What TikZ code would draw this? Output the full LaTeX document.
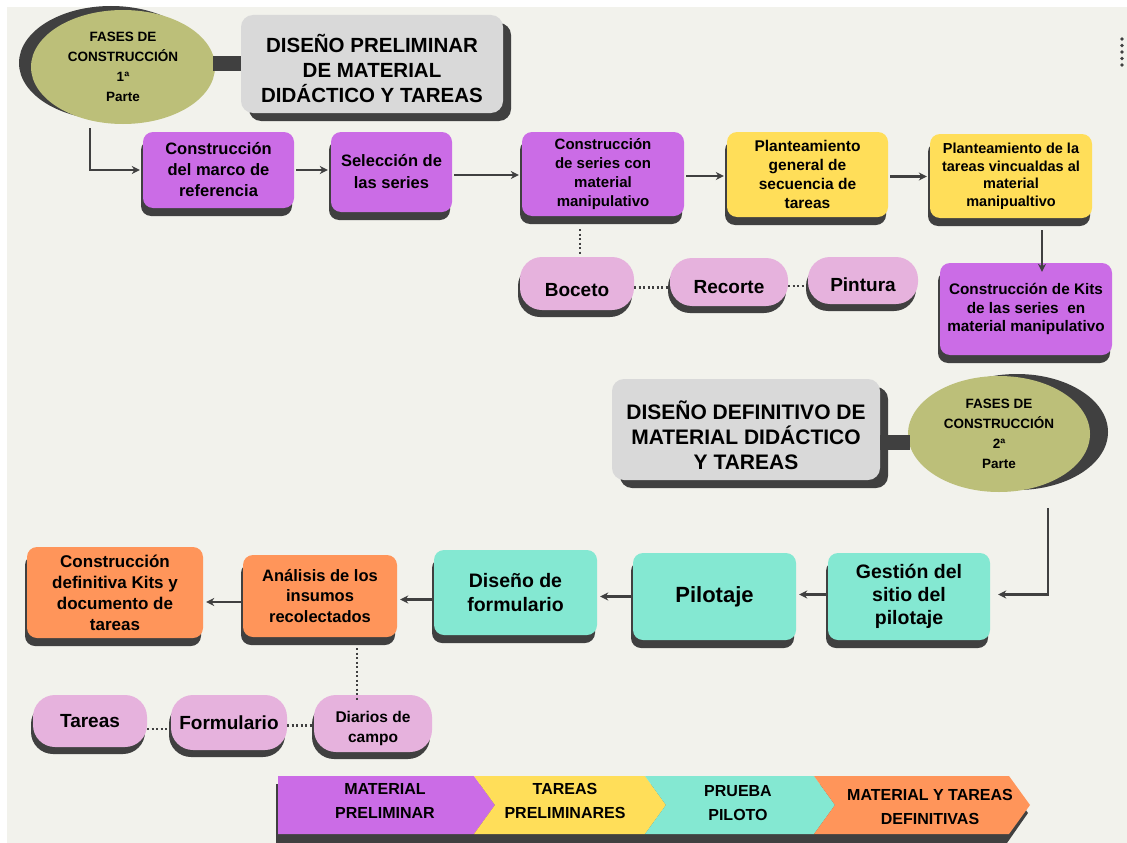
\documentclass[tikz,border=0pt]{standalone}
\usepackage{fontspec}
\setmainfont{Liberation Sans}
\usetikzlibrary{shadows,arrows.meta,calc,shapes.geometric}
\definecolor{bg}{HTML}{F2F2EC}
\definecolor{dk}{HTML}{404040}
\definecolor{purp}{HTML}{CB6CE6}
\definecolor{yel}{HTML}{FFDE59}
\definecolor{teal}{HTML}{84E8D2}
\definecolor{oran}{HTML}{FF955A}
\definecolor{pink}{HTML}{E6B2DD}
\definecolor{olive}{HTML}{BCBF79}
\definecolor{grayb}{HTML}{D9D9D9}
\newcommand{\fsz}[2]{\bfseries\fontsize{#1}{#2}\selectfont}
\newcommand{\lowr}[2]{\raisebox{-#1}[0pt][0pt]{#2}}
\begin{document}
\begin{tikzpicture}[x=1pt,y=-1pt,
  box/.style={rounded corners=10pt, align=center, inner sep=2pt,
    drop shadow={shadow xshift=-2pt, shadow yshift=-8pt, fill=dk, opacity=1}},
  graybox/.style={fill=grayb, rounded corners=12pt, align=center, inner sep=2pt,
    drop shadow={shadow xshift=8pt, shadow yshift=-8pt, fill=dk, opacity=1}},
  pill/.style={fill=pink, rounded corners=22pt, align=center, inner sep=2pt,
    drop shadow={shadow xshift=-2pt, shadow yshift=-7pt, fill=dk, opacity=1}},
  oval/.style={ellipse, fill=olive, align=center, inner sep=0pt},
  arr/.style={draw=dk, line width=2.3pt, -{Stealth[length=8pt,width=8pt]}, shorten <=2pt, shorten >=3pt},
  dotline/.style={draw=dk, line width=2.2pt, dash pattern=on 2pt off 2.5pt},
  bar/.style={draw=dk, line width=15pt},
  legtext/.style={align=center, font=\fsz{16}{24}}
]
\useasboundingbox (0,0) rectangle (1127,843);
\fill[white] (0,0) rectangle (1127,843);
\fill[bg] (7,7) rectangle (1127,843);

% menu dots
\foreach \yy in {39,45.5,52,58.5,65} \fill[dk] (1122,\yy) circle (1.8);

% ---------- top part ----------
\node[oval, minimum width=184pt, minimum height=114pt,
  drop shadow={shadow xshift=-12pt, shadow yshift=4pt, fill=dk, opacity=1},
  font=\fsz{13.5}{20}] (e1) at (123,67) {FASES DE\\CONSTRUCCIÓN\\1ª\\Parte};
\node[graybox, minimum width=262pt, minimum height=98pt, font=\fsz{20.5}{25}] (gp1) at (372,64)
  {\lowr{13pt}{DISEÑO PRELIMINAR}\\\lowr{13pt}{DE MATERIAL}\\\lowr{13pt}{DIDÁCTICO Y TAREAS}};
\draw[bar] ([xshift=-2pt]e1.east |- gp1.west) -- (gp1.west);

\node[box, fill=purp, minimum width=151pt, minimum height=76pt, font=\fsz{16.5}{21}] (b1) at (218.5,170)
  {Construcción\\del marco de\\referencia};
\node[box, fill=purp, minimum width=121pt, minimum height=80pt, font=\fsz{16.5}{22}] (b2) at (391.5,172)
  {Selección de\\las series};
\node[box, fill=purp, minimum width=162pt, minimum height=84pt, font=\fsz{15}{19}] (b3) at (603,174)
  {Construcción\\de series con\\material\\manipulativo};
\node[box, fill=yel, minimum width=161pt, minimum height=85pt, font=\fsz{15.5}{19}] (b4) at (807.5,174.5)
  {Planteamiento\\general de\\secuencia de\\tareas};
\node[box, fill=yel, minimum width=162pt, minimum height=84pt, font=\fsz{14.5}{17.5}] (b5) at (1011,176)
  {Planteamiento de la\\tareas vincualdas al\\material\\manipualtivo};
\node[box, fill=purp, minimum width=172pt, minimum height=92pt, font=\fsz{15.3}{18.5}] (b6) at (1026,309)
  {Construcción de Kits\\de las series\ \ en\\material manipulativo};

\node[pill, minimum width=114pt, minimum height=53pt, font=\fsz{19}{22}] (boceto) at (577,283.5)
  {\lowr{13pt}{Boceto}};
\node[pill, minimum width=118pt, minimum height=48pt, font=\fsz{19}{22}] (recorte) at (729,282)
  {\lowr{11pt}{Recorte}};
\node[pill, minimum width=110pt, minimum height=47pt, font=\fsz{19}{22}] (pintura) at (863,280.5)
  {\lowr{11pt}{Pintura}};

\coordinate (c1) at (90,128);
\draw[arr, shorten <=0pt] (c1) |- (b1.west);
\draw[arr] (b1.east) -- (b1.east -| b2.west);
\draw[arr] ([yshift=-3pt]b2.east) -- ([yshift=-3pt]b2.east -| b3.west);
\draw[arr] ([yshift=-2pt]b3.east) -- ([yshift=-2pt]b3.east -| b4.west);
\draw[arr] ([yshift=-2pt]b4.east) -- ([yshift=-2pt]b4.east -| b5.west);
\draw[arr, shorten <=0pt] ([xshift=31pt,yshift=-12pt]b5.south) -- ([xshift=31pt,yshift=-12pt]b5.south |- b6.north);

\draw[dotline, shorten >=2pt] ([xshift=3pt,yshift=-13pt]b3.south -| boceto.north) -- ([xshift=3pt]boceto.north);
\draw[dotline] ([yshift=-4pt]boceto.east) -- ([yshift=-4pt]boceto.east -| recorte.west);
\draw[dotline] ([yshift=-4pt]recorte.east) -- ([yshift=-4pt]recorte.east -| pintura.west);

% ---------- middle part ----------
\node[graybox, minimum width=268pt, minimum height=101pt, font=\fsz{21}{25}] (gp2) at (746,429.5)
  {\lowr{15pt}{DISEÑO DEFINITIVO DE}\\\lowr{15pt}{MATERIAL DIDÁCTICO}\\\lowr{15pt}{Y TAREAS}};
\node[oval, minimum width=182pt, minimum height=116pt,
  drop shadow={shadow xshift=18pt, shadow yshift=2pt, fill=dk, opacity=1},
  font=\fsz{13.5}{20}] (e2) at (999,434) {FASES DE\\CONSTRUCCIÓN\\2ª\\Parte};
\draw[bar] ([yshift=-13pt]gp2.east) -- ([yshift=-13pt,xshift=2pt]gp2.east -| e2.west);

% ---------- bottom row ----------
\node[box, fill=teal, minimum width=162pt, minimum height=87pt, font=\fsz{19.5}{23}] (gs) at (909,596.5)
  {Gestión del\\sitio del\\pilotaje};
\node[box, fill=teal, minimum width=163pt, minimum height=87pt, font=\fsz{22}{25}] (pil) at (714.5,596.5)
  {Pilotaje};
\node[box, fill=teal, minimum width=163pt, minimum height=85pt, font=\fsz{19.5}{24}] (dis) at (515.5,592.5)
  {Diseño de\\formulario};
\node[box, fill=oran, minimum width=154pt, minimum height=82pt, font=\fsz{16.5}{20.5}] (ana) at (320,596)
  {Análisis de los\\insumos\\recolectados};
\node[box, fill=oran, minimum width=176pt, minimum height=91pt, font=\fsz{17}{21}] (con) at (115,592.5)
  {Construcción\\definitiva Kits y\\documento de\\tareas};

\node[pill, minimum width=114pt, minimum height=52pt, font=\fsz{19}{22}] (tar) at (90,721) {Tareas};
\node[pill, minimum width=116pt, minimum height=55pt, font=\fsz{19}{22}] (form) at (229,722.5) {Formulario};
\node[pill, minimum width=118pt, minimum height=57pt, font=\fsz{15.5}{20}] (diar) at (373,723.5)
  {\lowr{9pt}{Diarios de}\\\lowr{9pt}{campo}};

\coordinate (c2) at (1048,508);
\draw[arr, shorten <=0pt, shorten >=8pt] (c2) |- ([yshift=2pt]gs.east);
\draw[arr] ([yshift=2pt]gs.west) -- ([yshift=2pt]gs.west -| pil.east);
\draw[arr] (pil.west) -- (pil.west -| dis.east);
\draw[arr] ([yshift=-7pt]dis.west) -- ([yshift=-7pt]dis.west -| ana.east);
\draw[arr] ([yshift=-6pt]ana.west) -- ([yshift=-6pt]ana.west -| con.east);

\draw[dotline, shorten >=4pt] ([xshift=37pt,yshift=-11pt]ana.south) -- ([xshift=37pt,yshift=-11pt]ana.south |- diar.north);
\draw[dotline] ([yshift=-8pt]tar.east) -- ([yshift=-8pt]tar.east -| form.west);
\draw[dotline] ([yshift=-3pt]form.east) -- ([yshift=-3pt]form.east -| diar.west);

% ---------- legend band ----------
\fill[dk] (276,784) -- (1007,784) -- (1028,813) -- (1007,843) -- (276,843) -- cycle;
\fill[purp] (278,776) -- (474,776) -- (495,805) -- (474,834) -- (278,834) -- cycle;
\fill[yel] (474,776) -- (645,776) -- (666,805) -- (645,834) -- (474,834) -- (495,805) -- cycle;
\fill[teal] (645,776) -- (814,776) -- (835,805) -- (814,834) -- (645,834) -- (666,805) -- cycle;
\fill[oran] (814,776) -- (1009,776) -- (1030,805) -- (1009,834) -- (814,834) -- (835,805) -- cycle;
\node[legtext] (l1) at (385,801) {MATERIAL\\PRELIMINAR};
\node[legtext] (l2) at (565,801) {TAREAS\\PRELIMINARES};
\node[legtext] (l3) at (738,803.5) {PRUEBA\\PILOTO};
\node[legtext] (l4) at (930,806.5) {MATERIAL Y TAREAS\\DEFINITIVAS};
\end{tikzpicture}
\end{document}
